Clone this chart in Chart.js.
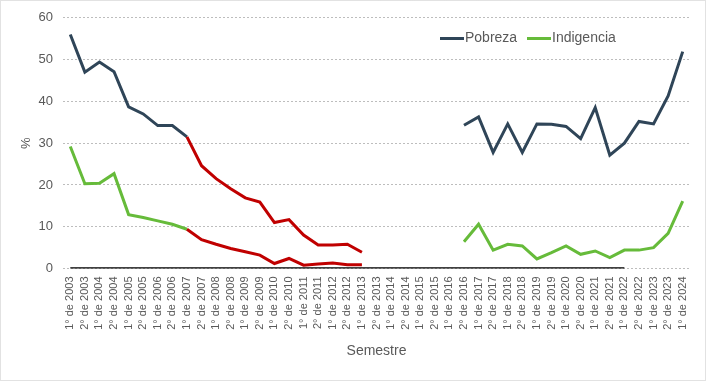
<!DOCTYPE html>
<html>
<head>
<meta charset="utf-8">
<script src="https://cdn.jsdelivr.net/npm/chart.js@4/dist/chart.umd.min.js"></script>
<style>
  html, body { margin: 0; padding: 0; background: #ffffff; }
  #c { display: block; }
</style>
</head>
<body>
<canvas id="c" width="706" height="381"></canvas>
<script>
const semestres = [
  "1° de 2003","2° de 2003","1° de 2004","2° de 2004","1° de 2005","2° de 2005",
  "1° de 2006","2° de 2006","1° de 2007","2° de 2007","1° de 2008","2° de 2008",
  "1° de 2009","2° de 2009","1° de 2010","2° de 2010","1° de 2011","2° de 2011",
  "1° de 2012","2° de 2012","1° de 2013","2° de 2013","1° de 2014","2° de 2014",
  "1° de 2015","2° de 2015","1° de 2016","2° de 2016","1° de 2017","2° de 2017",
  "1° de 2018","2° de 2018","1° de 2019","2° de 2019","1° de 2020","2° de 2020",
  "1° de 2021","2° de 2021","1° de 2022","2° de 2022","1° de 2023","2° de 2023",
  "1° de 2024"
];

const pobreza = [
  56.0, 47.0, 49.4, 47.1, 38.7, 37.0, 34.2, 34.2, 31.5, 24.6, 21.5, 19.1,
  16.9, 15.9, 11.0, 11.7, 8.0, 5.6, 5.6, 5.8, 3.9, null, null, null,
  null, null, null, 34.3, 36.3, 27.8, 34.6, 27.8, 34.6, 34.5, 34.0, 31.1,
  38.5, 27.1, 30.0, 35.2, 34.6, 41.3, 51.9
];

const indigencia = [
  29.2, 20.3, 20.4, 22.7, 12.9, 12.2, 11.4, 10.6, 9.4, 6.9, 5.8, 4.8,
  4.0, 3.2, 1.2, 2.4, 0.8, 1.1, 1.3, 0.9, 0.9, null, null, null,
  null, null, null, 6.4, 10.6, 4.4, 5.8, 5.4, 2.3, 3.8, 5.4, 3.4,
  4.2, 2.6, 4.4, 4.4, 5.0, 8.4, 16.1
];

const lineaCero = [
  0, 0, 0, 0, 0, 0, 0, 0, 0, 0, 0, 0, 0, 0, 0, 0, 0, 0, 0, 0,
  0, 0, 0, 0, 0, 0, 0, 0, 0, 0, 0, 0, 0, 0, 0, 0, 0, 0, 0, null,
  null, null, null
];

// Period drawn in red (1° de 2007 to 1° de 2013)
const periodoRojoInicio = 8;
const periodoRojoFin = 20;

const yTicks = [0, 10, 20, 30, 40, 50, 60];

const COLOR_POBREZA = '#2f4558';
const COLOR_INDIGENCIA = '#66bb3a';
const COLOR_ROJO = '#c00000';
const TEXT = '#595959';

const redSegment = (ctx) =>
  (ctx.p0DataIndex >= periodoRojoInicio && ctx.p1DataIndex <= periodoRojoFin) ? COLOR_ROJO : undefined;

const frameAndLegend = {
  id: 'frameAndLegend',
  beforeDraw(chart) {
    const ctx = chart.ctx;
    ctx.save();
    ctx.fillStyle = '#ffffff';
    ctx.fillRect(0, 0, chart.width, chart.height);
    ctx.restore();
  },
  afterDraw(chart) {
    const ctx = chart.ctx;
    ctx.save();
    // outer dotted frame
    ctx.strokeStyle = '#c4c4c4';
    ctx.lineWidth = 1;
    ctx.setLineDash([1, 1]);
    ctx.strokeRect(0.5, 0.5, chart.width - 1, chart.height - 1);
    ctx.setLineDash([]);
    // legend
    const items = [
      { ds: 0, x: 440 },
      { ds: 1, x: 527 }
    ];
    ctx.font = '14px "Liberation Sans", Arial, sans-serif';
    ctx.textBaseline = 'middle';
    ctx.textAlign = 'left';
    const y = 38.5;
    items.forEach(it => {
      const d = chart.data.datasets[it.ds];
      ctx.strokeStyle = d.borderColor;
      ctx.lineWidth = 3;
      ctx.beginPath();
      ctx.moveTo(it.x, y);
      ctx.lineTo(it.x + 24, y);
      ctx.stroke();
      ctx.fillStyle = TEXT;
      ctx.fillText(d.label, it.x + 25, y);
    });
    ctx.restore();
  }
};

new Chart(document.getElementById('c'), {
  type: 'line',
  data: {
    labels: semestres,
    datasets: [
      {
        label: 'Pobreza',
        data: pobreza,
        borderColor: COLOR_POBREZA,
        borderWidth: 3,
        pointRadius: 0,
        tension: 0,
        spanGaps: false,
        segment: { borderColor: redSegment }
      },
      {
        label: 'Indigencia',
        data: indigencia,
        borderColor: COLOR_INDIGENCIA,
        borderWidth: 3,
        pointRadius: 0,
        tension: 0,
        spanGaps: false,
        segment: { borderColor: redSegment }
      },
      {
        label: 'cero',
        data: lineaCero,
        borderColor: '#000000',
        borderWidth: 2.5,
        pointRadius: 0,
        tension: 0,
        spanGaps: false
      }
    ]
  },
  options: {
    responsive: false,
    animation: false,
    devicePixelRatio: 1,
    layout: { padding: { left: 0, right: 16, top: 16, bottom: 0 } },
    plugins: {
      legend: { display: false },
      tooltip: { enabled: false }
    },
    scales: {
      x: {
        offset: true,
        grid: { display: false, drawTicks: false },
        border: { display: false },
        ticks: {
          color: TEXT,
          font: { family: '"Liberation Sans", Arial, sans-serif', size: 11 },
          minRotation: 90,
          maxRotation: 90,
          autoSkip: false,
          padding: 8
        },
        title: {
          display: true,
          text: 'Semestre',
          color: TEXT,
          font: { family: '"Liberation Sans", Arial, sans-serif', size: 14 },
          padding: { top: 4, bottom: 21 }
        },
        afterFit(scale) { scale.height = 112.5; }
      },
      y: {
        min: 0,
        max: 60,
        afterBuildTicks(scale) { scale.ticks = yTicks.map(v => ({ value: v })); },
        grid: {
          color: '#bdbdbd',
          lineWidth: 1,
          drawTicks: false
        },
        border: { display: false, dash: [2, 2] },
        ticks: {
          color: TEXT,
          font: { family: '"Liberation Sans", Arial, sans-serif', size: 13 },
          padding: 10
        },
        title: {
          display: true,
          text: '%',
          color: TEXT,
          font: { family: '"Liberation Sans", Arial, sans-serif', size: 13 },
          padding: { top: 19, bottom: 0 }
        },
        afterFit(scale) { scale.width = 63; }
      }
    }
  },
  plugins: [frameAndLegend]
});
</script>
</body>
</html>
